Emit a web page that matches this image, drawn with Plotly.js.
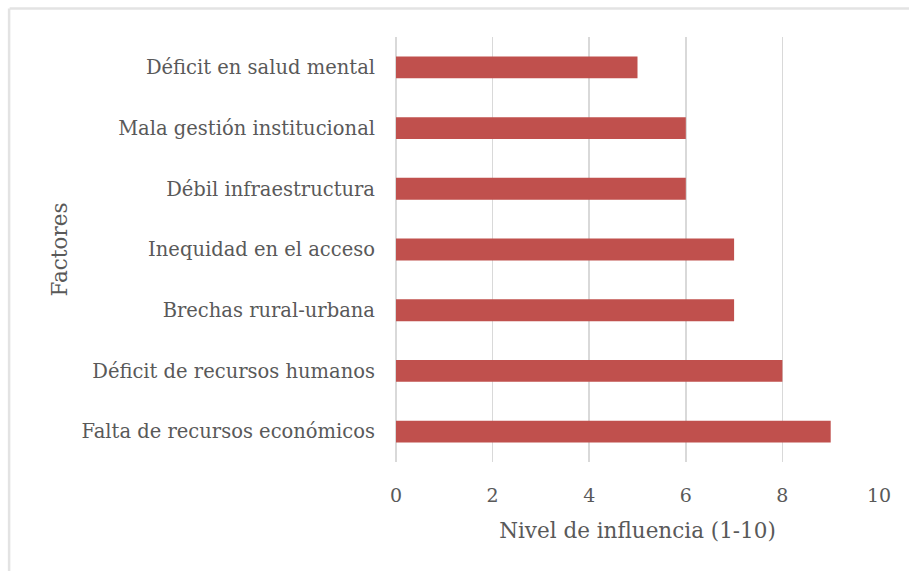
<!DOCTYPE html>
<html>
<head>
<meta charset="utf-8">
<script src="https://cdn.plot.ly/plotly-3.0.1.min.js"></script>
<style>html,body{margin:0;padding:0;background:#fff;}#chart{width:909px;height:571px;}</style>
</head>
<body>
<div id="chart"></div>
<script>
const factores = [
  "Falta de recursos económicos",
  "Déficit de recursos humanos",
  "Brechas rural-urbana",
  "Inequidad en el acceso",
  "Débil infraestructura",
  "Mala gestión institucional",
  "Déficit en salud mental"
];
const nivel = [9, 8, 7, 7, 6, 6, 5];
const xTicks = [0, 2, 4, 6, 8, 10];

const fontFam = "DejaVu Serif, Liberation Serif, serif";
const grey = "#595959";

const trace = {
  type: "bar",
  orientation: "h",
  y: factores,
  x: nivel,
  marker: {color: "#C0504D"},
  hoverinfo: "x+y"
};

const layout = {
  width: 909,
  height: 571,
  margin: {l: 396, r: 30, t: 37, b: 109},
  paper_bgcolor: "#fff",
  plot_bgcolor: "#fff",
  bargap: 0.64,
  showlegend: false,
  font: {family: fontFam, color: grey, size: 19},
  xaxis: {
    range: [0, 10],
    tickvals: xTicks,
    ticktext: xTicks.map(String),
    showgrid: true,
    gridcolor: "#d9d9d9",
    gridwidth: 1.5,
    zeroline: true,
    zerolinecolor: "#d9d9d9",
    zerolinewidth: 1.5,
    showline: false,
    ticks: "",
    ticklabelstandoff: 20,
    tickfont: {family: fontFam, size: 19, color: grey},
    title: {text: "Nivel de influencia (1-10)", font: {family: fontFam, size: 21.5, color: grey}, standoff: 17}
  },
  yaxis: {
    type: "category",
    categoryorder: "array",
    categoryarray: factores,
    showgrid: false,
    zeroline: false,
    showline: false,
    ticks: "",
    ticklabelstandoff: 20,
    tickfont: {family: fontFam, size: 19.5, color: grey},
    title: {text: "Factores", font: {family: fontFam, size: 21.5, color: grey}, standoff: 8}
  },
  shapes: [
    {type: "line", xref: "paper", yref: "paper", x0: -0.80, x1: 1.07, y0: 1.067, y1: 1.067, line: {color: "#e3e3e3", width: 2.5}},
    {type: "line", xref: "paper", yref: "paper", x0: -0.801, x1: -0.801, y0: 1.067, y1: -0.26, line: {color: "#e3e3e3", width: 2.5}}
  ]
};

Plotly.newPlot("chart", [trace], layout, {displayModeBar: false, staticPlot: true});
</script>
</body>
</html>
